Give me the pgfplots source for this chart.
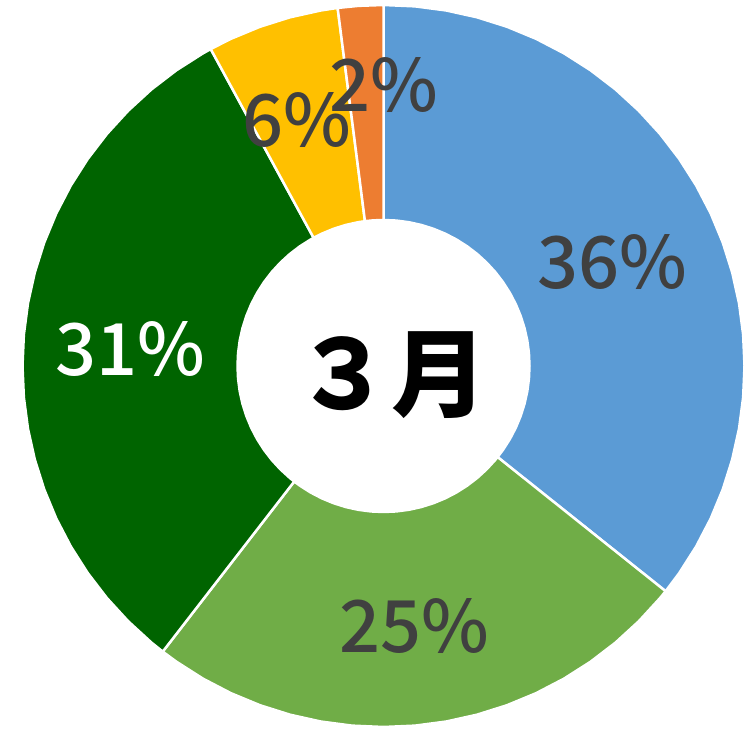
\documentclass[border=0pt]{standalone}
\usepackage{pgfplots}
\pgfplotsset{compat=1.18}
\usepackage{fontspec}
\setmainfont{Noto Sans CJK JP}
\newfontfamily\medfont{Noto Sans CJK JP Medium}
\definecolor{cblue}{HTML}{5B9BD5}
\definecolor{cgreen}{HTML}{70AD47}
\definecolor{cdark}{HTML}{006400}
\definecolor{cgold}{HTML}{FFC000}
\definecolor{corange}{HTML}{ED7D31}
\definecolor{ctext}{HTML}{404040}
\begin{document}
\begin{tikzpicture}
\begin{axis}[
  scale only axis, width=753bp, height=731bp,
  xmin=-383.5, xmax=369.5, ymin=-365, ymax=366,
  hide axis, clip=false,
]
\addplot[draw=none, forget plot] coordinates {(-383.5,-365) (369.5,366)};
% blue 35.7%
\addplot[data cs=polar, fill=cblue, draw=white, line width=2.5bp] coordinates {
(90,361)(85,361)(80,361)(75,361)(70,361)(65,361)(60,361)(55,361)(50,361)(45,361)(40,361)(35,361)(30,361)(25,361)(20,361)(15,361)(10,361)(5,361)(0,361)(-5,361)(-10,361)(-15,361)(-20,361)(-25,361)(-30,361)(-35,361)(-38.6,361)
(-38.6,146)(-35,146)(-30,146)(-25,146)(-20,146)(-15,146)(-10,146)(-5,146)(0,146)(5,146)(10,146)(15,146)(20,146)(25,146)(30,146)(35,146)(40,146)(45,146)(50,146)(55,146)(60,146)(65,146)(70,146)(75,146)(80,146)(85,146)(90,146)
} -- cycle;
% green 24.75%
\addplot[data cs=polar, fill=cgreen, draw=white, line width=2.5bp] coordinates {
(-38.6,361)(-40,361)(-45,361)(-50,361)(-55,361)(-60,361)(-65,361)(-70,361)(-75,361)(-80,361)(-85,361)(-90,361)(-95,361)(-100,361)(-105,361)(-110,361)(-115,361)(-120,361)(-125,361)(-127.7,361)
(-127.7,146)(-125,146)(-120,146)(-115,146)(-110,146)(-105,146)(-100,146)(-95,146)(-90,146)(-85,146)(-80,146)(-75,146)(-70,146)(-65,146)(-60,146)(-55,146)(-50,146)(-45,146)(-40,146)(-38.6,146)
} -- cycle;
% dark green 31.6%
\addplot[data cs=polar, fill=cdark, draw=white, line width=2.5bp] coordinates {
(-127.7,361)(-130,361)(-135,361)(-140,361)(-145,361)(-150,361)(-155,361)(-160,361)(-165,361)(-170,361)(-175,361)(-180,361)(-185,361)(-190,361)(-195,361)(-200,361)(-205,361)(-210,361)(-215,361)(-220,361)(-225,361)(-230,361)(-235,361)(-240,361)(-241.4,361)
(-241.4,146)(-240,146)(-235,146)(-230,146)(-225,146)(-220,146)(-215,146)(-210,146)(-205,146)(-200,146)(-195,146)(-190,146)(-185,146)(-180,146)(-175,146)(-170,146)(-165,146)(-160,146)(-155,146)(-150,146)(-145,146)(-140,146)(-135,146)(-130,146)(-127.7,146)
} -- cycle;
% gold 5.9%
\addplot[data cs=polar, fill=cgold, draw=white, line width=2.5bp] coordinates {
(-241.4,361)(-245,361)(-250,361)(-255,361)(-260,361)(-262.7,361)
(-262.7,146)(-260,146)(-255,146)(-250,146)(-245,146)(-241.4,146)
} -- cycle;
% orange 2.05%
\addplot[data cs=polar, fill=corange, draw=white, line width=2.5bp] coordinates {
(-262.7,361)(-266,361)(-270,361)
(-270,146)(-266,146)(-262.7,146)
} -- cycle;
\node[text=ctext, font=\medfont\fontsize{72bp}{72bp}\selectfont] at (axis cs:228.5,104) {36\%};
\node[text=ctext, font=\medfont\fontsize{72bp}{72bp}\selectfont] at (axis cs:30.5,-260) {25\%};
\node[text=white, font=\medfont\fontsize{72bp}{72bp}\selectfont] at (axis cs:-253.5,17) {31\%};
\node[text=ctext, font=\medfont\fontsize{72bp}{72bp}\selectfont] at (axis cs:-86.5,246) {6\%};
\node[text=ctext, font=\medfont\fontsize{72bp}{72bp}\selectfont] at (axis cs:0.5,281) {2\%};
\node[text=black, font=\fontsize{96bp}{96bp}\selectfont\bfseries] at (axis cs:8,-9) {３月};
\end{axis}
\end{tikzpicture}
\end{document}
